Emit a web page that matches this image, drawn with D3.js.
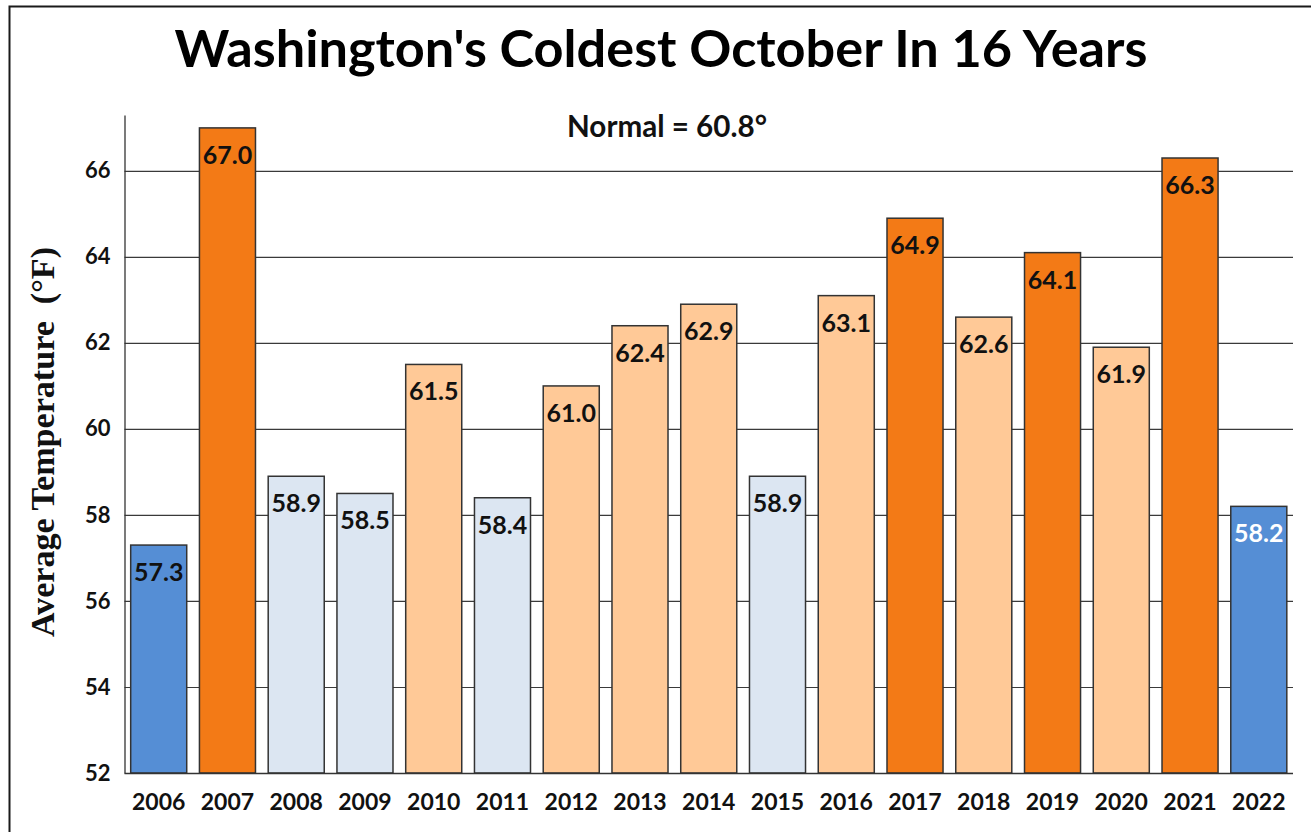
<!DOCTYPE html>
<html>
<head>
<meta charset="utf-8">
<script src="https://cdn.jsdelivr.net/npm/d3@7"></script>
<style>
  html, body { margin: 0; padding: 0; background: #fff; }
  svg { display: block; }
</style>
</head>
<body>
<svg id="chart" width="1311" height="832"></svg>
<script>
// ---- Data ----
const years = ["2006","2007","2008","2009","2010","2011","2012","2013","2014","2015","2016","2017","2018","2019","2020","2021","2022"];
const temps = [57.3, 67.0, 58.9, 58.5, 61.5, 58.4, 61.0, 62.4, 62.9, 58.9, 63.1, 64.9, 62.6, 64.1, 61.9, 66.3, 58.2];
const yTicks = [52, 54, 56, 58, 60, 62, 64, 66];
const normalTemp = 60.8;
const titleText = "Washington's Coldest October In 16 Years";
const yAxisTitle = "Average Temperature  (°F)";
const colorBreaks = [58.3, normalTemp, 64];
const colorRange = ["#558ED5", "#DCE6F2", "#FFC997", "#F37A16"];

// ---- Layout ----
const svg = d3.select("#chart");
const pLeft = 124.5, pRight = 1293, pTop = 115, pBottom = 773;
const x = d3.scaleBand().domain(years).range([pLeft, pRight]).paddingInner(0.185).paddingOuter(0.09);
const y = d3.scaleLinear().domain([52, 67.3]).range([pBottom, pTop]);
const color = d3.scaleThreshold().domain(colorBreaks).range(colorRange);

function fit(sel, target) {
  const fs = parseFloat(sel.attr("font-size"));
  const w = sel.node().getComputedTextLength();
  sel.attr("font-size", fs * target / w);
}

// frame
svg.append("rect").attr("x", 9.5).attr("y", 6.5).attr("width", 1400).attr("height", 900)
  .attr("fill", "none").attr("stroke", "#1a1a1a").attr("stroke-width", 2);

// title
const t = svg.append("text").attr("x", 661).attr("y", 67).attr("text-anchor", "middle")
  .attr("font-family", "Lato, 'Open Sans', sans-serif").attr("font-weight", "bold")
  .attr("font-size", 42).attr("fill", "#000").text(titleText);
fit(t, 973);

// gridlines
svg.append("g").selectAll("line").data(yTicks.filter(d => d > 52)).join("line")
  .attr("x1", pLeft).attr("x2", pRight)
  .attr("y1", d => y(d) + 0.5).attr("y2", d => y(d) + 0.5)
  .attr("stroke", "#3a3a3a").attr("stroke-width", 1.2);

// y axis
const yAxis = svg.append("g").attr("transform", `translate(${pLeft},0)`)
  .call(d3.axisLeft(y).tickValues(yTicks).tickSize(0).tickPadding(14).tickFormat(d3.format("d")));
yAxis.select(".domain").attr("stroke", "#333").attr("stroke-width", 1.3);
yAxis.selectAll("text").attr("font-family", "Lato, sans-serif").attr("font-weight", "bold")
  .attr("font-size", 22).attr("fill", "#111");

// bars
svg.append("g").selectAll("rect").data(years).join("rect")
  .attr("x", d => x(d)).attr("width", x.bandwidth())
  .attr("y", (d, i) => y(temps[i])).attr("height", (d, i) => pBottom - y(temps[i]))
  .attr("fill", (d, i) => color(temps[i]))
  .attr("stroke", "#333").attr("stroke-width", 1.5);

// value labels
svg.append("g").selectAll("text").data(years).join("text")
  .attr("x", d => x(d) + x.bandwidth() / 2)
  .attr("y", (d, i) => y(temps[i]) + 36)
  .attr("text-anchor", "middle")
  .attr("font-family", "Lato, sans-serif").attr("font-weight", "bold").attr("font-size", 25)
  .attr("fill", (d, i) => i === years.length - 1 ? "#fff" : "#111")
  .text((d, i) => d3.format(".1f")(temps[i]));

// x axis
const xAxis = svg.append("g").attr("transform", `translate(0,${pBottom})`)
  .call(d3.axisBottom(x).tickSize(0).tickPadding(20));
xAxis.select(".domain").attr("stroke", "#333").attr("stroke-width", 1.3)
  .attr("d", `M${pLeft},0.5H${pRight}`);
xAxis.selectAll("text").attr("font-family", "Lato, sans-serif").attr("font-weight", "bold")
  .attr("font-size", 23).attr("fill", "#111").attr("dy", 0).attr("y", 37);

// normal annotation
const n = svg.append("text").attr("x", 667).attr("y", 137).attr("text-anchor", "middle")
  .attr("font-family", "Lato, sans-serif").attr("font-weight", "bold")
  .attr("font-size", 26).attr("fill", "#111").text(`Normal = ${normalTemp}°`);
fit(n, 200);

// y axis title
const yt = svg.append("text").attr("transform", "translate(54,442) rotate(-90)")
  .attr("text-anchor", "middle").style("white-space", "pre")
  .attr("font-family", "'Liberation Serif', 'Times New Roman', serif").attr("font-weight", "bold")
  .attr("font-size", 28).attr("fill", "#111").text(yAxisTitle);
fit(yt, 390);
</script>
</body>
</html>
